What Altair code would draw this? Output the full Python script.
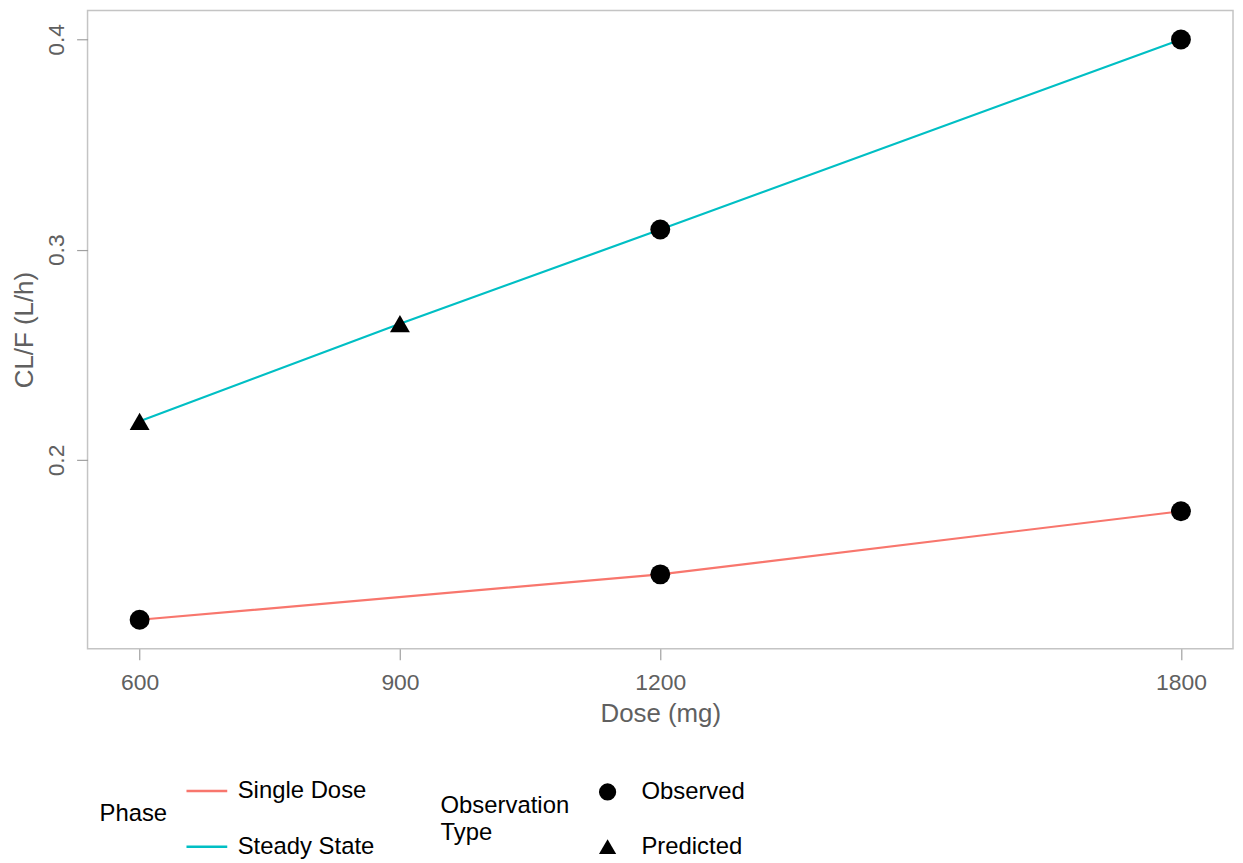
import altair as alt
import pandas as pd

# Data
doses = [600, 1200, 1800, 600, 900, 1200, 1800]
clf = [0.1240, 0.1456, 0.1756, 0.2184, 0.2648, 0.3096, 0.4000]
phases = ["Single Dose", "Single Dose", "Single Dose",
          "Steady State", "Steady State", "Steady State", "Steady State"]
obs_types = ["Observed", "Observed", "Observed",
             "Predicted", "Predicted", "Observed", "Observed"]

x_ticks = [600, 900, 1200, 1800]
y_ticks = [0.2, 0.3, 0.4]
phase_domain = ["Single Dose", "Steady State"]
phase_colors = ["#F8766D", "#00BFC4"]
type_domain = ["Observed", "Predicted"]

df = pd.DataFrame({"Dose": doses, "CLF": clf, "Phase": phases, "Type": obs_types})

FONT = "Liberation Sans"
GRAY = "#606060"

x = alt.X("Dose:Q",
          scale=alt.Scale(domain=[540, 1860], nice=False, zero=False),
          axis=alt.Axis(values=x_ticks, title="Dose (mg)", format="d",
                        labelPadding=12, titleY=65, titleBaseline="middle"))
y = alt.Y("CLF:Q",
          scale=alt.Scale(domain=[0.1102, 0.4138], nice=False, zero=False),
          axis=alt.Axis(values=y_ticks, title="CL/F (L/h)", format=".1f",
                        labelAngle=270, labelAlign="center", labelBaseline="bottom",
                        labelPadding=8,
                        titleX=-63, titleY=321, titleAngle=270,
                        titleAlign="center", titleBaseline="middle"))

lines = alt.Chart(df).mark_line(strokeWidth=2.2).encode(
    x=x, y=y,
    color=alt.Color("Phase:N",
                    scale=alt.Scale(domain=phase_domain, range=phase_colors),
                    legend=alt.Legend(title="Phase", orient="none",
                                      legendX=12, legendY=763,
                                      titleOrient="left", titleAnchor="middle",
                                      titlePadding=17, symbolType="stroke",
                                      symbolSize=1681, symbolStrokeWidth=2.5,
                                      labelOffset=9, rowPadding=22)),
)

points = alt.Chart(df).mark_point(filled=True, opacity=1, color="black", size=400).encode(
    x=x, y=y,
    shape=alt.Shape("Type:N",
                    scale=alt.Scale(domain=type_domain, range=["circle", "triangle-up"]),
                    legend=alt.Legend(title=["Observation", "Type"], orient="none",
                                      legendX=355, legendY=774,
                                      titleOrient="left", titleAnchor="middle",
                                      titlePadding=26, titleLineHeight=27,
                                      symbolSize=300, symbolFillColor="black",
                                      symbolStrokeColor="black", symbolStrokeWidth=0,
                                      labelOffset=22, rowPadding=31)),
)

chart = alt.layer(lines, points).properties(
    width=1152, height=642,
    autosize=alt.AutoSizeParams(type="none"),
    padding={"left": 80, "top": 0, "right": 2, "bottom": 215},
).configure(font=FONT).configure_view(
    stroke="#c4c4c4", strokeWidth=1.5
).configure_axis(
    domain=False, grid=False, tickColor="#a0a0a0", tickSize=11, tickWidth=1.2,
    labelFontSize=23, labelColor=GRAY, labelFont=FONT,
    titleFontSize=26, titleColor=GRAY, titleFontWeight="normal", titleFont=FONT,
).configure_legend(
    labelFontSize=24, titleFontSize=24, labelColor="black", titleColor="black",
    titleFontWeight="normal", labelFont=FONT, titleFont=FONT,
)

chart.save("out.html", embed_options={"renderer": "svg", "actions": False})
